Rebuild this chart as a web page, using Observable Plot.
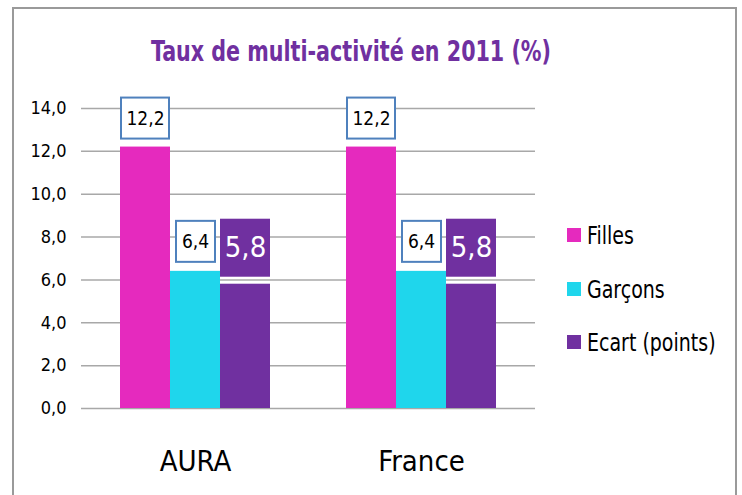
<!DOCTYPE html>
<html><head><meta charset="utf-8">
<script src="https://cdn.jsdelivr.net/npm/d3@7"></script>
<script src="https://cdn.jsdelivr.net/npm/@observablehq/plot@0.6"></script>
<style>
body{margin:0;background:#fff;}
#wrap{position:relative;width:742px;height:495px;overflow:hidden;background:#fff;font-family:"Liberation Sans Narrow","DejaVu Sans Condensed",sans-serif;}
#frame{position:absolute;left:12px;top:7px;width:725px;height:520px;border:2px solid #9a9a9a;box-sizing:border-box;}
#title{position:absolute;left:0;top:34px;width:702px;text-align:center;font-size:28px;font-weight:bold;color:#7030A0;line-height:36px;transform:scaleX(0.82);transform-origin:351px 0;}
.layer{position:absolute;left:0;top:0;}
#legend{position:absolute;left:567px;top:0;}
.item{position:absolute;left:0;white-space:nowrap;font-size:24px;line-height:28px;color:#000;}
.sw{display:inline-block;width:14px;height:14px;vertical-align:middle;margin-right:6px;position:relative;top:-2px;}
.lbl{display:inline-block;transform:scaleX(0.88);transform-origin:0 0;}
</style></head>
<body>
<div id="wrap">
  <div id="frame"></div>
  <div id="title">Taux de multi-activité en 2011 (%)</div>
  <div id="gridLayer" class="layer"></div>
  <div id="barLayer" class="layer"></div>
  <div id="legend"></div>
</div>
<script>
const categories = ["AURA", "France"];
const series = ["Filles", "Garçons", "Ecart (points)"];
const filles = [12.2, 12.2];
const garcons = [6.4, 6.4];
const ecart = [5.8, 5.8];
const yTicks = [0, 2, 4, 6, 8, 10, 12, 14];
const colors = ["#E52ABE", "#1FD6EC", "#7030A0"];

const values = [filles, garcons, ecart];
const rows = [];
categories.forEach((c, i) => series.forEach((s, j) => rows.push({cat: c, series: s, value: values[j][i]})));
const fmt = v => v.toFixed(1).replace(".", ",");

const W = 742, H = 495;
const M = {marginLeft: 81, marginRight: 207, marginTop: 108, marginBottom: 87};
const font = '"Liberation Sans Narrow","DejaVu Sans Condensed",sans-serif';

const gridPlot = Plot.plot({
  width: W, height: H, ...M,
  style: {fontFamily: font, background: "transparent", overflow: "visible"},
  y: {domain: [0, 14]},
  marks: [
    Plot.ruleY(yTicks, {stroke: "#a8a8a8", strokeWidth: 1.5}),
    Plot.axisY(yTicks, {tickSize: 0, tickPadding: 15, tickFormat: fmt, fontSize: 18, fill: "#000", label: null})
  ]
});
document.getElementById("gridLayer").append(gridPlot);

const by = s => rows.filter(d => d.series === s);

const barPlot = Plot.plot({
  width: W, height: H, ...M,
  style: {fontFamily: font, background: "transparent", overflow: "visible"},
  fx: {domain: categories, paddingInner: 0.336, paddingOuter: 0.172, label: null},
  x: {domain: series, padding: 0, axis: null},
  y: {domain: [0, 14], axis: null},
  color: {domain: series, range: colors},
  marks: [
    Plot.axisFx({anchor: "bottom", tickSize: 0, tickPadding: 42, fontSize: 29, fill: "#000", label: null}),
    Plot.barY(rows, {fx: "cat", x: "series", y: "value", fill: "series"}),
    Plot.barY(by("Filles"), {fx: "cat", x: "series", y1: "value", y2: "value", insetTop: -49, insetBottom: 8, insetLeft: 1, insetRight: 1, fill: "white", stroke: "#4F81BD", strokeWidth: 2}),
    Plot.barY(by("Garçons"), {fx: "cat", x: "series", y1: "value", y2: "value", insetTop: -50, insetBottom: 9, insetLeft: 6, insetRight: 5, fill: "white", stroke: "#4F81BD", strokeWidth: 2}),
    Plot.barY(by("Ecart (points)"), {fx: "cat", x: "series", y1: "value", y2: "value", insetTop: -65, insetBottom: 7, fill: "#7030A0"}),
    Plot.text(by("Filles"), {fx: "cat", x: "series", y: "value", text: d => fmt(d.value), dy: -28.5, fontSize: 19, fill: "#000"}),
    Plot.text(by("Garçons"), {fx: "cat", x: "series", y: "value", text: d => fmt(d.value), dy: -29.5, fontSize: 19, fill: "#000"}),
    Plot.text(by("Ecart (points)"), {fx: "cat", x: "series", y: "value", text: d => fmt(d.value), dy: -36, fontSize: 29, fill: "#fff"})
  ]
});
document.getElementById("barLayer").append(barPlot);

const legendTops = [236, 290, 343];
const legend = document.getElementById("legend");
series.forEach((s, i) => {
  const it = document.createElement("div");
  it.className = "item";
  it.style.top = (legendTops[i] - 14) + "px";
  it.innerHTML = `<span class="sw" style="background:${colors[i]}"></span><span class="lbl">${s}</span>`;
  legend.append(it);
});
</script>
</body></html>
